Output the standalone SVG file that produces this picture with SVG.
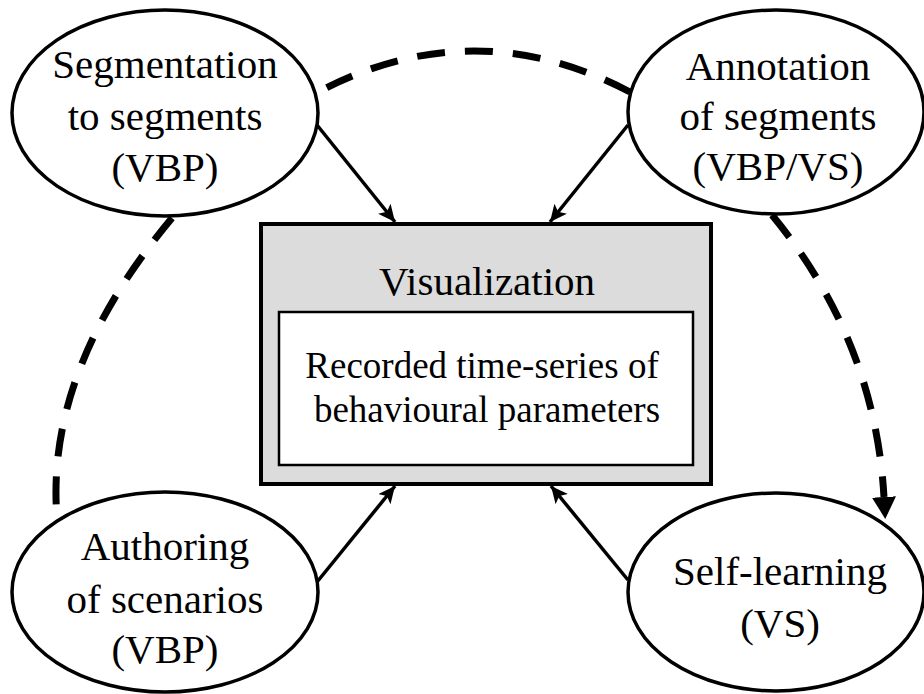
<svg xmlns="http://www.w3.org/2000/svg" width="924" height="694" viewBox="0 0 924 694">
<defs>
<style>
.ell{fill:#fff;stroke:#000;stroke-width:3.5}
.arr{fill:none;stroke:#000;stroke-width:3.5;marker-end:url(#ah)}
.dash{fill:none;stroke:#000;stroke-width:7;stroke-dasharray:28 20}
</style>
<marker id="ah" markerUnits="userSpaceOnUse" markerWidth="20" markerHeight="18" refX="17" refY="8" orient="auto">
<path d="M0,0 L17,8 L0,16 L4,8 Z" fill="#000"/>
</marker>
<marker id="ahb" markerUnits="userSpaceOnUse" markerWidth="24" markerHeight="26" refX="0" refY="12" orient="auto">
<path d="M0,0 L22,12 L0,24 Z" fill="#000"/>
</marker>
</defs>
<g id="connectors">
<path class="dash" d="M630,92 Q474,10 318,92"/>
<path class="dash" d="M172,218 Q45,370 57,518"/>
<path class="dash" d="M772,215 Q875,340 884,497" style="marker-end:url(#ahb)"/>
<line class="arr" x1="317" y1="125" x2="395" y2="222"/>
<line class="arr" x1="628" y1="125" x2="550" y2="222"/>
<line class="arr" x1="317" y1="582" x2="395" y2="486"/>
<line class="arr" x1="628" y1="580" x2="551" y2="486"/>
</g>
<g id="visualization">
<rect x="261" y="224" width="450" height="260" fill="#dcdcdc" stroke="#000" stroke-width="4"/>
<text font-family="'Liberation Serif', 'Times New Roman', serif" font-size="41" text-anchor="middle" x="487" y="295">Visualization</text>
<rect x="279" y="312" width="414" height="153" fill="#fff" stroke="#000" stroke-width="2.5"/>
<text font-family="'Liberation Serif', 'Times New Roman', serif" font-size="37" text-anchor="middle" x="482" y="378">Recorded time-series of</text>
<text font-family="'Liberation Serif', 'Times New Roman', serif" font-size="37" text-anchor="middle" x="487" y="422">behavioural parameters</text>
</g>
<g id="segmentation" font-family="'Liberation Serif', 'Times New Roman', serif" font-size="41" text-anchor="middle">
<ellipse class="ell" cx="165" cy="113" rx="153" ry="103"/>
<text x="165" y="78">Segmentation</text>
<text x="165" y="130">to segments</text>
<text x="165" y="181">(VBP)</text>
</g>
<g id="annotation" font-family="'Liberation Serif', 'Times New Roman', serif" font-size="41" text-anchor="middle">
<ellipse class="ell" cx="776" cy="112" rx="148" ry="102"/>
<text x="778" y="80">Annotation</text>
<text x="778" y="130">of segments</text>
<text x="778" y="180">(VBP/VS)</text>
</g>
<g id="authoring" font-family="'Liberation Serif', 'Times New Roman', serif" font-size="41" text-anchor="middle">
<ellipse class="ell" cx="165" cy="592" rx="153" ry="100"/>
<text x="165" y="560">Authoring</text>
<text x="165" y="613">of scenarios</text>
<text x="165" y="663">(VBP)</text>
</g>
<g id="selflearning" font-family="'Liberation Serif', 'Times New Roman', serif" font-size="41" text-anchor="middle">
<ellipse class="ell" cx="776" cy="592" rx="148" ry="99"/>
<text x="780" y="585">Self-learning</text>
<text x="780" y="637">(VS)</text>
</g>
</svg>
